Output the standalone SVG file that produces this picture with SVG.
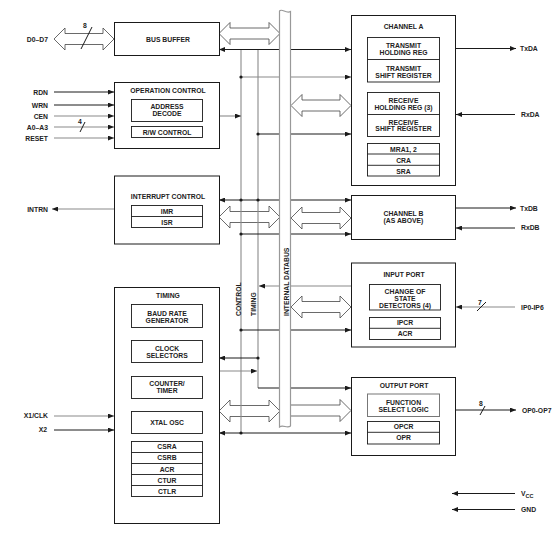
<svg xmlns="http://www.w3.org/2000/svg" width="557" height="534" viewBox="0 0 557 534">
<style>
.t{font-family:"Liberation Sans",Arial,sans-serif;font-size:6.8px;font-weight:bold;fill:#222;text-anchor:middle}
.l{text-anchor:end}
.s{text-anchor:start}
.box{fill:#fff;stroke:#1a1a1a;stroke-width:1}
.in{fill:none;stroke:#1a1a1a;stroke-width:0.9}
.k{fill:none;stroke:#1a1a1a;stroke-width:1}
.g{fill:none;stroke:#8a8a8a;stroke-width:1.1}
.a{marker-end:url(#ah)}
.b{marker-start:url(#ah);marker-end:url(#ah)}
.w{fill:none;stroke:#444;stroke-width:0.8}
.dot{fill:#1a1a1a}
</style>
<defs>
<marker id="ah" markerUnits="userSpaceOnUse" markerWidth="6" markerHeight="5" viewBox="0 0 6 5" refX="6" refY="2.5" orient="auto-start-reverse">
<path d="M0,0 L6,2.5 L0,5 Z" fill="#1a1a1a"/>
</marker>
</defs>
<rect width="557" height="534" fill="#fff"/>

<g id="connectors">
<!-- external inputs/outputs -->
<path class="w" d="M54,39 L65,28 L65,33.5 L103,33.5 L103,28 L114,39 L103,50 L103,44.5 L65,44.5 L65,50 Z"/>
<path class="k" d="M81,49 L92,27"/>
<path class="k a" d="M54,92 H114"/>
<path class="k a" d="M54,105 H114"/>
<path class="g a" d="M54,116 H114"/>
<path class="g a" d="M54,127 H114"/>
<path class="k" d="M80,132 L85,122"/>
<path class="g a" d="M54,138 H114"/>
<path class="g a" d="M114,209 H52"/>
<path class="g a" d="M54,416 H114"/>
<path class="k a" d="M54,430 H114"/>
<path class="k a" d="M456,48.5 H516"/>
<path class="k a" d="M515,114.5 H456"/>
<path class="k a" d="M456,208 H516"/>
<path class="k a" d="M515,228 H456"/>
<path class="g a" d="M515,307 H456"/>
<path class="k" d="M477,311 L486,302"/>
<path class="k a" d="M456,410 H516"/>
<path class="k" d="M480,415 L485,406"/>
<path class="k a" d="M515,493.5 H452"/>
<path class="k a" d="M515,509.5 H452"/>

<!-- wide bus arrows -->
<path class="w" d="M219,33.5 L230,22.5 L230,28 L269,28 L269,22.5 L280,33.5 L269,44.5 L269,39 L230,39 L230,44.5 Z"/>
<path class="w" d="M291,105.5 L302,94.5 L302,100 L340,100 L340,94.5 L351,105.5 L340,116.5 L340,111 L302,111 L302,116.5 Z"/>
<path class="w" d="M219,217 L230,206 L230,211.5 L269,211.5 L269,206 L280,217 L269,228 L269,222.5 L230,222.5 L230,228 Z"/>
<path class="w" d="M291,218 L302,207 L302,212.5 L340,212.5 L340,207 L351,218 L340,229 L340,223.5 L302,223.5 L302,229 Z"/>
<path class="w" d="M291,307 L302,296 L302,301.5 L340,301.5 L340,296 L351,307 L340,318 L340,312.5 L302,312.5 L302,318 Z"/>
<path class="w" d="M219,411 L230,400 L230,405.5 L269,405.5 L269,400 L280,411 L269,422 L269,416.5 L230,416.5 L230,422 Z"/>
<path class="w" d="M291,405 L340,405 L340,399.5 L351,410.5 L340,421.5 L340,416 L291,416"/>

<!-- control and timing lines -->
<path class="g" d="M241,49.5 V433"/>
<path class="g" d="M258,49.5 V388"/>
<path class="k b" d="M219,49.5 H351"/>
<path class="g a" d="M241,77 H351"/>
<path class="g a" d="M219,116 H241"/>
<path class="k a" d="M258,134 H351"/>
<path class="k b" d="M219,200 H351"/>
<path class="k a" d="M241,234 H351"/>
<path class="g a" d="M351,286 H259"/>
<path class="k a" d="M241,330 H351"/>
<path class="k a" d="M258,358 H219"/>
<path class="g a" d="M219,371 H257"/>
<path class="k a" d="M258,388 H351"/>
<path class="k b" d="M219,433 H351"/>
<circle class="dot" cx="241" cy="77" r="1.6"/>
<circle class="dot" cx="258" cy="134" r="1.6"/>
<circle class="dot" cx="241" cy="200" r="1.6"/>
<circle class="dot" cx="258" cy="200" r="1.6"/>
<circle class="dot" cx="241" cy="234" r="1.6"/>
<circle class="dot" cx="241" cy="330" r="1.6"/>
<circle class="dot" cx="258" cy="358" r="1.6"/>
<circle class="dot" cx="241" cy="433" r="1.6"/>

<text class="t l" x="48" y="41.5">D0–D7</text>
<text class="t" x="85" y="28">8</text>
<text class="t l" x="48" y="94.5">RDN</text>
<text class="t l" x="48" y="107.5">WRN</text>
<text class="t l" x="48" y="118.5">CEN</text>
<text class="t l" x="48" y="129.5">A0–A3</text>
<text class="t" x="80" y="123.5">4</text>
<text class="t l" x="48" y="140.5">RESET</text>
<text class="t l" x="48" y="211.5">INTRN</text>
<text class="t l" x="48" y="418.2">X1/CLK</text>
<text class="t l" x="47" y="432.2">X2</text>
<text class="t s" x="520" y="51">TxDA</text>
<text class="t s" x="521" y="117">RxDA</text>
<text class="t s" x="520" y="210.5">TxDB</text>
<text class="t s" x="521" y="230.2">RxDB</text>
<text class="t s" x="521" y="309.5">IP0-IP6</text>
<text class="t" x="480" y="305">7</text>
<text class="t s" x="522" y="412.5">OP0-OP7</text>
<text class="t" x="481" y="406.2">8</text>
<text class="t s" x="521" y="496">V<tspan font-size="5.5" dy="1.8">CC</tspan></text>
<text class="t s" x="521" y="511.8">GND</text>
<text class="t s" transform="translate(240.5,316) rotate(-90)">CONTROL</text>
<text class="t s" transform="translate(256,316) rotate(-90)">TIMING</text>
</g>

<g id="databus">
<path d="M279.5,427 L279.5,11 C282,8 286,14 290.5,11.5 L290.5,426 C287,429 283,424 279.5,427 Z" fill="#fff" stroke="#999" stroke-width="1.2"/>
<text class="t s" transform="translate(288.5,316) rotate(-90)">INTERNAL DATABUS</text>
</g>

<g id="bus-buffer">
<rect class="box" x="114.5" y="22.5" width="105" height="33"/>
<text class="t" x="168" y="41.5">BUS BUFFER</text>
</g>

<g id="operation-control">
<rect class="box" x="114.5" y="82.5" width="105" height="66"/>
<text class="t" x="168" y="92.5">OPERATION CONTROL</text>
<rect class="in" x="131.5" y="99.5" width="71" height="22"/>
<text class="t" x="167" y="108.5">ADDRESS</text>
<text class="t" x="167" y="115.8">DECODE</text>
<rect class="in" x="131.5" y="126.5" width="71" height="11"/>
<text class="t" x="167" y="134.8">R/W CONTROL</text>
</g>

<g id="interrupt-control">
<rect class="box" x="114.5" y="176" width="105" height="68"/>
<text class="t" x="168" y="199">INTERRUPT CONTROL</text>
<rect class="in" x="131.5" y="205.5" width="71" height="22"/>
<path class="in" d="M131.5,216.5 H202.5"/>
<text class="t" x="167" y="213.5">IMR</text>
<text class="t" x="167" y="224.8">ISR</text>
</g>

<g id="timing">
<rect class="box" x="114.5" y="287.5" width="105" height="236"/>
<text class="t" x="168" y="298">TIMING</text>
<rect class="in" x="131.5" y="304.5" width="71" height="23"/>
<text class="t" x="167" y="316.2">BAUD RATE</text>
<text class="t" x="167" y="323.2">GENERATOR</text>
<rect class="in" x="131.5" y="340.5" width="71" height="22"/>
<text class="t" x="167" y="350.8">CLOCK</text>
<text class="t" x="167" y="357.8">SELECTORS</text>
<rect class="in" x="131.5" y="376.5" width="71" height="22"/>
<text class="t" x="167" y="386.2">COUNTER/</text>
<text class="t" x="167" y="393.2">TIMER</text>
<rect class="in" x="131.5" y="411.5" width="71" height="22"/>
<text class="t" x="167" y="425.2">XTAL OSC</text>
<rect class="in" x="131.5" y="441.5" width="71" height="55"/>
<path class="in" d="M131.5,452.5 H202.5 M131.5,463.5 H202.5 M131.5,474.5 H202.5 M131.5,485.5 H202.5"/>
<text class="t" x="167" y="449.3">CSRA</text>
<text class="t" x="167" y="460.3">CSRB</text>
<text class="t" x="167" y="471.5">ACR</text>
<text class="t" x="167" y="482.5">CTUR</text>
<text class="t" x="167" y="493.5">CTLR</text>
</g>

<g id="channel-a">
<rect class="box" x="351.5" y="15.5" width="104" height="170"/>
<text class="t" x="403.5" y="28.5">CHANNEL A</text>
<rect class="in" x="367.5" y="37.5" width="72" height="44.5"/>
<path class="in" d="M367.5,59.5 H439.5"/>
<text class="t" x="403.5" y="48">TRANSMIT</text>
<text class="t" x="403.5" y="54.8">HOLDING REG</text>
<text class="t" x="403.5" y="70.5">TRANSMIT</text>
<text class="t" x="403.5" y="77.8">SHIFT REGISTER</text>
<rect class="in" x="367.5" y="92.5" width="72" height="44"/>
<path class="in" d="M367.5,114.5 H439.5"/>
<text class="t" x="403.5" y="102.5">RECEIVE</text>
<text class="t" x="403.5" y="109.8">HOLDING REG (3)</text>
<text class="t" x="403.5" y="124.5">RECEIVE</text>
<text class="t" x="403.5" y="131.2">SHIFT REGISTER</text>
<rect class="in" x="367.5" y="143.5" width="72" height="32.5"/>
<path class="in" d="M367.5,154 H439.5 M367.5,165.3 H439.5"/>
<text class="t" x="403.5" y="151.5">MRA1, 2</text>
<text class="t" x="403.5" y="162.8">CRA</text>
<text class="t" x="403.5" y="174">SRA</text>
</g>

<g id="channel-b">
<rect class="box" x="351.5" y="195.5" width="104" height="44"/>
<text class="t" x="403.5" y="215.8">CHANNEL B</text>
<text class="t" x="403.5" y="223.2">(AS ABOVE)</text>
</g>

<g id="input-port">
<rect class="box" x="351.5" y="263" width="104" height="84"/>
<text class="t" x="404" y="276.8">INPUT PORT</text>
<rect class="in" x="369.5" y="284.5" width="71" height="25.5"/>
<text class="t" x="405" y="294.2">CHANGE OF</text>
<text class="t" x="405" y="300.8">STATE</text>
<text class="t" x="405" y="308">DETECTORS (4)</text>
<rect class="in" x="369.5" y="317.5" width="71" height="22"/>
<path class="in" d="M369.5,328.3 H440.5"/>
<text class="t" x="405" y="325.2">IPCR</text>
<text class="t" x="405" y="336.2">ACR</text>
</g>

<g id="output-port">
<rect class="box" x="351.5" y="377.5" width="104" height="78"/>
<text class="t" x="404" y="387.5">OUTPUT PORT</text>
<rect x="367.5" y="394" width="72" height="22.5" fill="none" stroke="#777" stroke-width="1"/>
<text class="t" x="403.5" y="404.8">FUNCTION</text>
<text class="t" x="403.5" y="411.8">SELECT LOGIC</text>
<rect class="in" x="367.5" y="421.5" width="72" height="22.5"/>
<path class="in" d="M367.5,432.3 H439.5"/>
<text class="t" x="403.5" y="429.2">OPCR</text>
<text class="t" x="403.5" y="440.4">OPR</text>
</g>
</svg>
